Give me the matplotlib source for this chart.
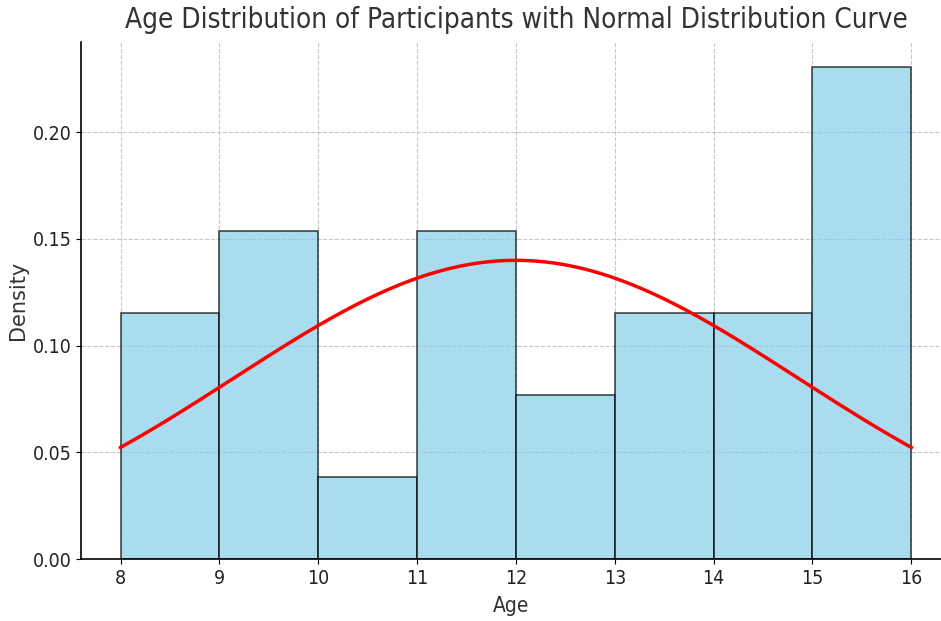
import numpy as np
import matplotlib
matplotlib.use("Agg")
import matplotlib.pyplot as plt

# histogram of ages (density), bins of width 1 from 8 to 16
bin_edges = [8, 9, 10, 11, 12, 13, 14, 15, 16]
densities = [0.1154, 0.1538, 0.0385, 0.1538, 0.0769, 0.1154, 0.1154, 0.2308]

# fitted normal curve
mu = 12.0
sigma = 2.85

plt.rcParams["font.stretch"] = "condensed"

fig = plt.figure(figsize=(9.41, 6.21), dpi=100)
ax = fig.add_axes([0.0861, 0.0998, 0.9139, 0.8326])

widths = np.diff(bin_edges)
ax.bar(bin_edges[:-1], densities, width=widths, align="edge",
       color="skyblue", alpha=0.7, edgecolor="black", linewidth=1.2, zorder=2)

x = np.linspace(bin_edges[0], bin_edges[-1], 200)
pdf = np.exp(-0.5 * ((x - mu) / sigma) ** 2) / (sigma * np.sqrt(2 * np.pi))
ax.plot(x, pdf, color="red", linewidth=2.5, zorder=4)

ax.set_xlim(7.6, 16.3)
ax.set_ylim(0, 0.2423)
ax.set_xticks(bin_edges)
ax.set_yticks([0.0, 0.05, 0.10, 0.15, 0.20])
ax.set_yticklabels(["0.00", "0.05", "0.10", "0.15", "0.20"])

ax.grid(True, linestyle="--", color="#b0b0b0", linewidth=0.8, alpha=0.7, zorder=3)
ax.spines.right.set_visible(False)
ax.spines.top.set_visible(False)
ax.spines.left.set_linewidth(1.2)
ax.spines.bottom.set_linewidth(1.2)
ax.tick_params(labelsize=14, labelcolor="#222222")

ax.set_title("Age Distribution of Participants with Normal Distribution Curve",
             fontsize=20, color="#333333", pad=10, x=0.506)
ax.set_xlabel("Age", fontsize=15, color="#333333", labelpad=6)
ax.set_ylabel("Density", fontsize=15, color="#333333", fontstretch="normal", labelpad=3)

plt.savefig("out.png", dpi=100)
